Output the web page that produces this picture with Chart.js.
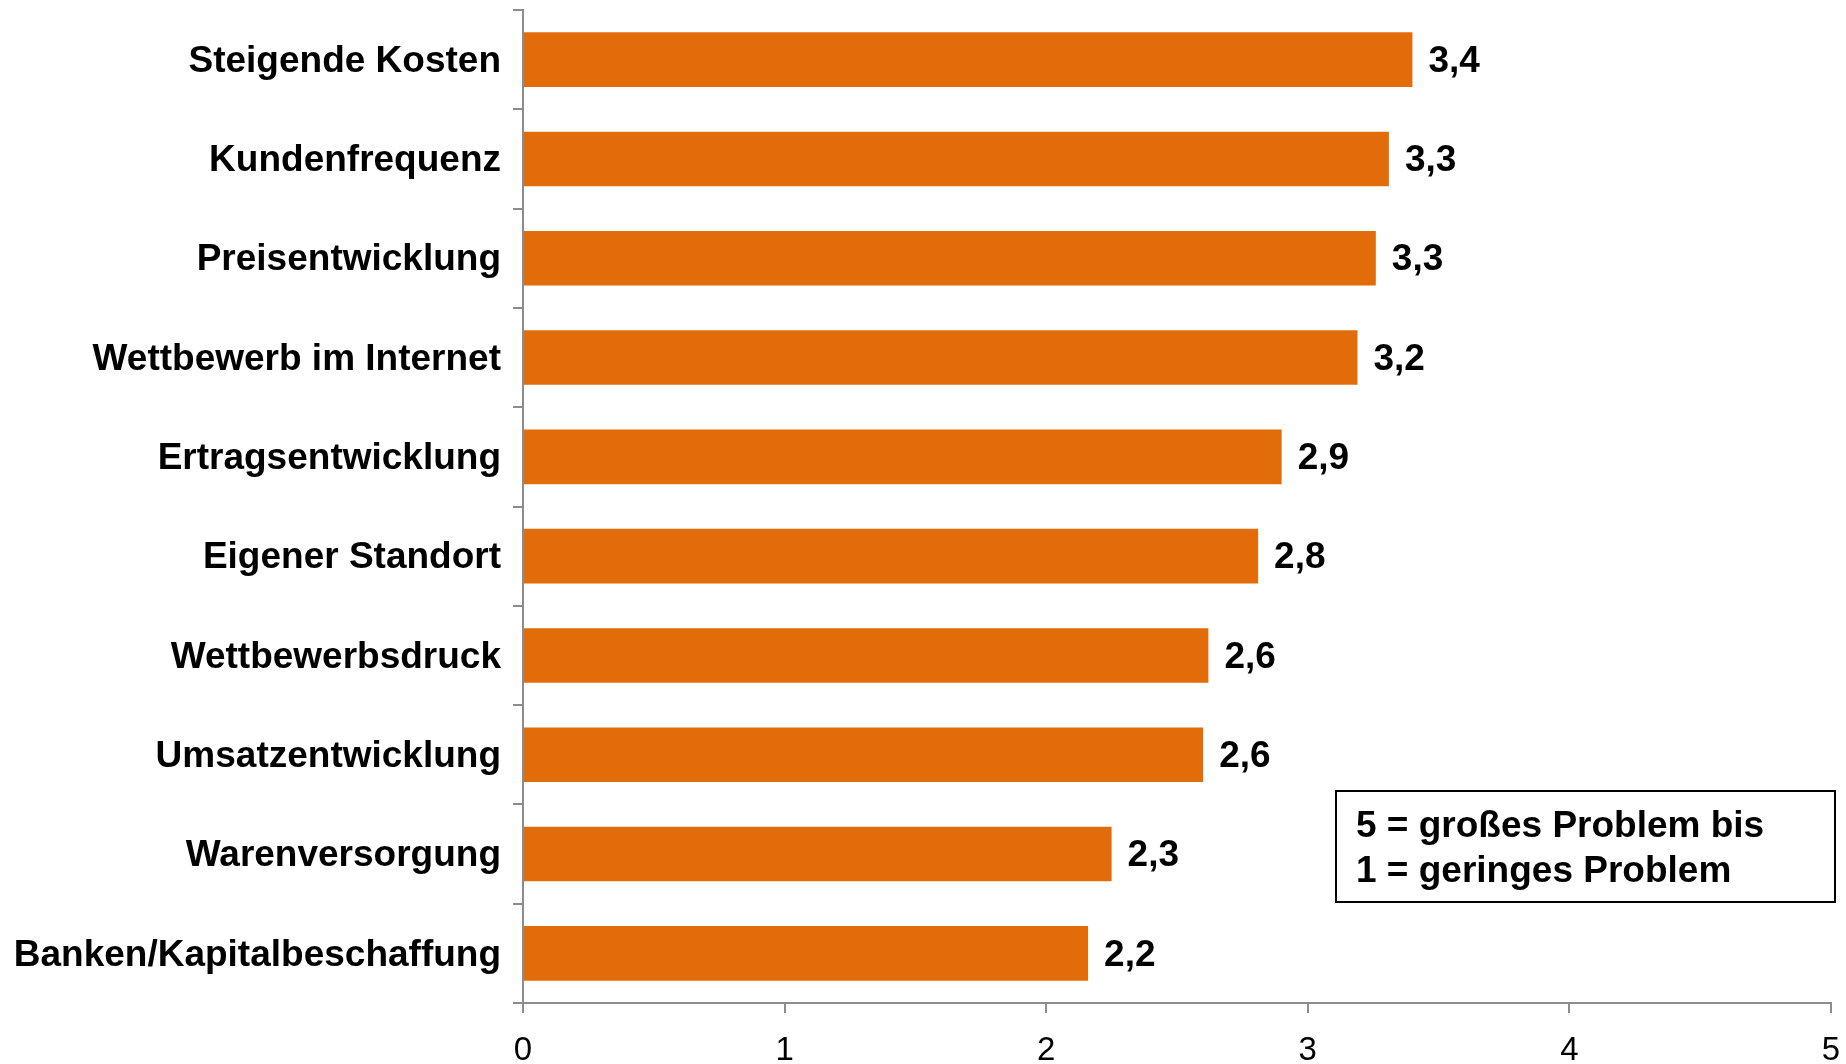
<!DOCTYPE html>
<html>
<head>
<meta charset="utf-8">
<script src="https://cdn.jsdelivr.net/npm/chart.js@4.4.0/dist/chart.umd.min.js"></script>
<style>
  body { margin: 0; background: #fff; }
  canvas { display: block; }
</style>
</head>
<body>
<canvas id="chart" width="1846" height="1064"></canvas>
<script>
// categories, top to bottom
const categories = [
  'Steigende Kosten',
  'Kundenfrequenz',
  'Preisentwicklung',
  'Wettbewerb im Internet',
  'Ertragsentwicklung',
  'Eigener Standort',
  'Wettbewerbsdruck',
  'Umsatzentwicklung',
  'Warenversorgung',
  'Banken/Kapitalbeschaffung'
];
// average rating (5 = großes Problem, 1 = geringes Problem)
const ratings = [3.4, 3.31, 3.26, 3.19, 2.9, 2.81, 2.62, 2.6, 2.25, 2.16];
const xTicks = [0, 1, 2, 3, 4, 5];
const noteLines = ['5 = großes Problem bis', '1 = geringes Problem'];

const FONT = '"Liberation Sans", Arial, sans-serif';
const AXIS_GREY = '#8c8c8c';

// value labels to the right of each bar, german decimal comma
const valueLabels = {
  id: 'valueLabels',
  afterDatasetsDraw(chart) {
    const ctx = chart.ctx;
    const meta = chart.getDatasetMeta(0);
    ctx.save();
    ctx.font = 'bold 37px ' + FONT;
    ctx.fillStyle = '#000';
    ctx.textAlign = 'left';
    ctx.textBaseline = 'middle';
    meta.data.forEach((bar, i) => {
      const txt = ratings[i].toFixed(1).replace('.', ',');
      ctx.fillText(txt, bar.x + 16, bar.y + 2);
    });
    ctx.restore();
  }
};

// boxed note in the lower right
const noteBox = {
  id: 'noteBox',
  afterDraw(chart) {
    const ctx = chart.ctx;
    const area = chart.chartArea;
    const right = area.right + 4;
    const left = right - 499;
    const top = 791;
    const h = 111;
    ctx.save();
    ctx.fillStyle = '#fff';
    ctx.fillRect(left, top, right - left, h);
    ctx.strokeStyle = '#000';
    ctx.lineWidth = 2;
    ctx.strokeRect(left, top, right - left, h);
    ctx.font = 'bold 37px ' + FONT;
    ctx.fillStyle = '#000';
    ctx.textBaseline = 'middle';
    ctx.fillText(noteLines[0], left + 20, top + 36);
    ctx.fillText(noteLines[1], left + 20, top + 81);
    ctx.restore();
  }
};

new Chart(document.getElementById('chart'), {
  type: 'bar',
  data: {
    labels: categories,
    datasets: [{
      data: ratings,
      backgroundColor: '#E36C0A',
      borderWidth: 0,
      barPercentage: 0.55,
      categoryPercentage: 1.0
    }]
  },
  options: {
    indexAxis: 'y',
    responsive: false,
    animation: false,
    layout: { padding: { top: 10, right: 15, left: 0, bottom: 0 } },
    plugins: {
      legend: { display: false },
      tooltip: { enabled: false }
    },
    scales: {
      x: {
        min: 0,
        max: 5,
        afterBuildTicks(scale) {
          scale.ticks = xTicks.map(v => ({ value: v }));
        },
        afterFit(scale) {
          scale.height = 61;
          scale.paddingLeft = 0;
          scale.paddingRight = 0;
        },
        grid: {
          drawOnChartArea: false,
          drawTicks: true,
          tickLength: 10,
          color: AXIS_GREY,
          lineWidth: 2
        },
        border: { display: true, color: AXIS_GREY, width: 2 },
        ticks: {
          color: '#000',
          font: { family: FONT, size: 33 },
          padding: 18,
          maxRotation: 0
        }
      },
      y: {
        afterFit(scale) {
          scale.width = 523;
          scale.paddingTop = 0;
          scale.paddingBottom = 0;
        },
        grid: {
          offset: true,
          drawOnChartArea: false,
          drawTicks: true,
          tickLength: 10,
          color: AXIS_GREY,
          lineWidth: 2
        },
        border: { display: true, color: AXIS_GREY, width: 2 },
        ticks: {
          color: '#000',
          font: { family: FONT, size: 37, weight: 'bold' },
          padding: 12,
          labelOffset: 2
        }
      }
    }
  },
  plugins: [valueLabels, noteBox]
});
</script>
</body>
</html>
